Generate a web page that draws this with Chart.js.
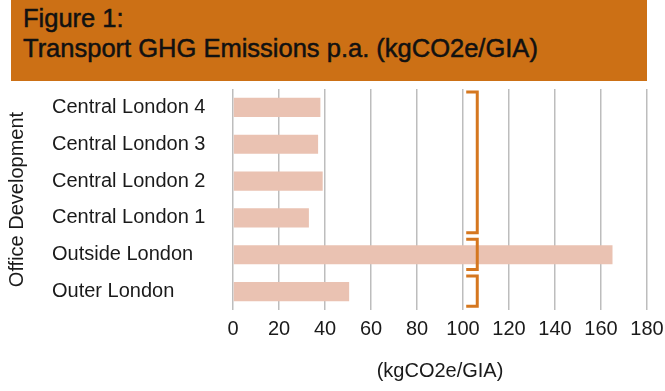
<!DOCTYPE html>
<html>
<head>
<meta charset="utf-8">
<script src="https://cdn.jsdelivr.net/npm/chart.js@4.4.1/dist/chart.umd.min.js"></script>
<style>
  html, body { margin: 0; padding: 0; background: #fff; }
  #wrap { position: relative; width: 665px; height: 391px; overflow: hidden; }
  #chart { position: absolute; left: 0; top: 0; }
  #head {
    position: absolute; left: 11px; top: 0; width: 624px; height: 78px;
    padding: 3px 0 0 12px;
    background: #CC7015; color: #111;
    font-family: "Liberation Sans", Arial, sans-serif;
    font-size: 25.5px; line-height: 30px;
    -webkit-text-stroke: 0.5px #111;
    white-space: nowrap;
  }
</style>
</head>
<body>
<div id="wrap">
  <canvas id="chart" width="665" height="391"></canvas>
  <div id="head">Figure 1:<br>Transport GHG Emissions p.a. (kgCO2e/GIA)</div>
</div>
<script>
const categories = ['Central London 4', 'Central London 3', 'Central London 2', 'Central London 1', 'Outside London', 'Outer London'];
const emissions = [38, 37, 39, 33, 165, 50.5];
const xTicks = [0, 20, 40, 60, 80, 100, 120, 140, 160, 180];
const yTitle = 'Office Development';
// bracket groups (first/last category index of each group)
const groupStart = [0, 4, 5];
const groupEnd = [3, 4, 5];

const FONT = '"Liberation Sans", Arial, sans-serif';
const ORANGE = '#D5771F';
const INK = '#1a1a1a';

// draws the orange square brackets to the right of the 100 gridline
const brackets = {
  id: 'brackets',
  afterDatasetsDraw(chart){
    const { ctx, scales: { x, y } } = chart;
    const band = (y.getPixelForValue(1) - y.getPixelForValue(0));
    const x0 = x.getPixelForValue(101.4);
    const x1 = x.getPixelForValue(106.2);
    ctx.save();
    ctx.strokeStyle = ORANGE;
    ctx.lineWidth = 3;
    groupStart.forEach((s, i) => {
      const top = y.getPixelForValue(s) - band * 0.42;
      const bot = y.getPixelForValue(groupEnd[i]) + band * 0.4;
      ctx.beginPath();
      ctx.moveTo(x0, top);
      ctx.lineTo(x1, top);
      ctx.lineTo(x1, bot);
      ctx.lineTo(x0, bot);
      ctx.stroke();
    });
    ctx.restore();
  }
};

// rotated y axis title (drawn here so tick labels can stay left aligned)
const yAxisTitle = {
  id: 'yAxisTitle',
  afterDraw(chart){
    const { ctx, chartArea } = chart;
    ctx.save();
    ctx.translate(17, (chartArea.top + chartArea.bottom) / 2);
    ctx.rotate(-Math.PI / 2);
    ctx.font = '20px ' + FONT;
    ctx.fillStyle = INK;
    ctx.textAlign = 'center';
    ctx.textBaseline = 'middle';
    ctx.fillText(yTitle, 0, 0);
    ctx.restore();
  }
};

new Chart(document.getElementById('chart'), {
  type: 'bar',
  data: {
    labels: categories,
    datasets: [{
      data: emissions,
      backgroundColor: '#EAC2B2',
      borderWidth: 0,
      barPercentage: 0.52,
      categoryPercentage: 1
    }]
  },
  plugins: [brackets, yAxisTitle],
  options: {
    indexAxis: 'y',
    responsive: false,
    animation: false,
    layout: { padding: { top: 89, left: 52, right: 0, bottom: 0 } },
    plugins: { legend: { display: false }, tooltip: { enabled: false } },
    scales: {
      x: {
        min: 0, max: 180,
        afterBuildTicks: (s) => { s.ticks = xTicks.map(v => ({ value: v })); },
        afterFit: (s) => { s.height = 81; s.paddingRight = 18; },
        grid: { color: '#BDBDBD', lineWidth: 1.5, drawTicks: false },
        border: { display: false },
        ticks: { color: INK, padding: 7, font: { family: FONT, size: 20 } },
        title: { display: true, text: '(kgCO2e/GIA)', color: INK,
                 padding: { top: 4, bottom: 8 }, font: { family: FONT, size: 20 } }
      },
      y: {
        afterFit: (s) => { s.width = 181; },
        grid: { display: false },
        border: { display: false },
        ticks: { color: INK, crossAlign: 'far', font: { family: FONT, size: 20 } }
      }
    }
  }
});
</script>
</body>
</html>
